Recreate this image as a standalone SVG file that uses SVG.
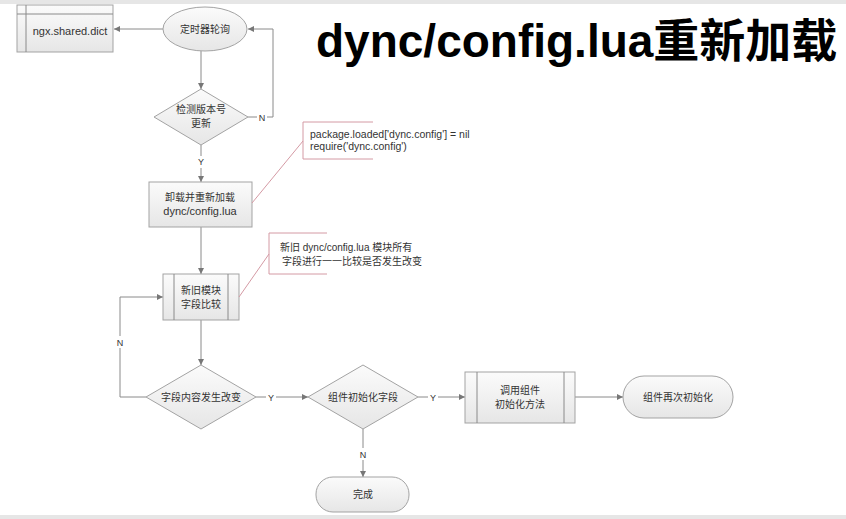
<svg xmlns="http://www.w3.org/2000/svg" width="846" height="519" viewBox="0 0 846 519">
<defs>
<linearGradient id="g" x1="0" y1="0" x2="0" y2="1">
<stop offset="0" stop-color="#fbfbfb"/>
<stop offset="1" stop-color="#e6e6e6"/>
</linearGradient>
<marker id="ah" viewBox="0 0 10 10" refX="10" refY="5" markerWidth="6" markerHeight="6" markerUnits="userSpaceOnUse" orient="auto">
<path d="M0,0 L10,5 L0,10 z" fill="#777"/>
</marker>
</defs>
<style>
.n{fill:url(#g);stroke:#a3a3a3;stroke-width:1}
.i{stroke:#8a8a8a;stroke-width:1;fill:none}
.t{font-family:"Liberation Sans","Noto Sans CJK SC",sans-serif;font-size:10px;fill:#333;text-anchor:middle}
.tl{font-size:11px}
.a{stroke:#8a8a8a;stroke-width:1;fill:none;marker-end:url(#ah)}
.l{font-family:"Liberation Sans",sans-serif;font-size:9px;fill:#333;text-anchor:middle}
.an{stroke:#d49aa4;stroke-width:1;fill:none}
.at{font-family:"Liberation Sans","Noto Sans CJK SC",sans-serif;font-size:10.5px;fill:#333}
.at2{font-family:"Liberation Sans","Noto Sans CJK SC",sans-serif;font-size:10px;fill:#333}
</style>
<rect width="846" height="519" fill="#fff"/>
<rect x="0" y="0" width="846" height="4" fill="#e6e6e6"/>
<rect x="0" y="515" width="846" height="4" fill="#e6e6e6"/>

<text x="316" y="57" font-family="Liberation Sans,'Noto Sans CJK SC',sans-serif" font-weight="bold" font-size="46" fill="#000">dync/config.lua重新加载</text>

<g id="connectors">
<path class="a" d="M163,29 L114,29"/>
<path class="a" d="M201,51 L201,89"/>
<path class="a" d="M248,117 L273,117 L273,29 L248,29"/>
<path class="a" d="M201,145 L201,182"/>
<path class="a" d="M201,227 L201,274"/>
<path class="a" d="M201,320 L201,365"/>
<path class="a" d="M146,397 L120,397 L120,297 L163,297"/>
<path class="a" d="M256,397 L308,397"/>
<path class="a" d="M418,397 L465,397"/>
<path class="a" d="M363,429 L363,477"/>
<path class="a" d="M575,397 L623,397"/>
<rect x="257" y="111" width="10" height="12" fill="#fff"/>
<text class="l" x="262" y="120.5">N</text>
<rect x="196" y="156" width="10" height="12" fill="#fff"/>
<text class="l" x="201" y="165">Y</text>
<rect x="115" y="336" width="10" height="12" fill="#fff"/>
<text class="l" x="120" y="345.5">N</text>
<rect x="266" y="391" width="10" height="12" fill="#fff"/>
<text class="l" x="271" y="400.5">Y</text>
<rect x="428" y="391" width="10" height="12" fill="#fff"/>
<text class="l" x="433" y="400.5">Y</text>
<rect x="358" y="448" width="10" height="12" fill="#fff"/>
<text class="l" x="363" y="457.5">N</text>
</g>

<g id="ngx">
<rect class="n" x="17" y="5" width="96" height="47"/>
<path class="i" d="M26,5 V52 M17,14 H113"/>
<text class="t tl" x="70" y="35">ngx.shared.dict</text>
</g>

<g id="timer">
<ellipse class="n" cx="205" cy="29" rx="42" ry="22"/>
<text class="t" x="205" y="33">定时器轮询</text>
</g>

<g id="check">
<polygon class="n" points="201,89 248,117 201,145 154,117"/>
<text class="t" x="201" y="113">检测版本号</text>
<text class="t" x="201" y="127">更新</text>
</g>

<g id="reload">
<rect class="n" x="149" y="182" width="103" height="45"/>
<text class="t" x="200" y="201">卸载并重新加载</text>
<text class="t tl" x="200" y="215">dync/config.lua</text>
</g>

<g id="note1">
<path class="an" d="M373,122 H303 V159 H373 M303,141 L252,203"/>
<text class="at" x="310" y="138">package.loaded['dync.config'] = nil</text>
<text class="at" x="310" y="150">require('dync.config')</text>
</g>

<g id="compare">
<rect class="n" x="163" y="274" width="76" height="46"/>
<path class="i" d="M174,274 V320 M228,274 V320"/>
<text class="t" x="201" y="294">新旧模块</text>
<text class="t" x="201" y="308">字段比较</text>
</g>

<g id="note2">
<path class="an" d="M327,233 H269 V274 H327 M269,254 L239,297"/>
<text class="at2" x="280" y="251">新旧 dync/config.lua 模块所有</text>
<text class="at2" x="282" y="265">字段进行一一比较是否发生改变</text>
</g>

<g id="changed">
<polygon class="n" points="201,365 256,397 201,429 146,397"/>
<text class="t" x="201" y="401">字段内容发生改变</text>
</g>

<g id="initfield">
<polygon class="n" points="363,365 418,397 363,429 308,397"/>
<text class="t" x="363" y="401">组件初始化字段</text>
</g>

<g id="callinit">
<rect class="n" x="465" y="372" width="110" height="51"/>
<path class="i" d="M477,372 V423 M564,372 V423"/>
<text class="t" x="520" y="394">调用组件</text>
<text class="t" x="520" y="408">初始化方法</text>
</g>

<g id="reinit">
<rect class="n" x="623" y="376" width="110" height="42" rx="21" ry="21"/>
<text class="t" x="678" y="401">组件再次初始化</text>
</g>

<g id="done">
<rect class="n" x="316" y="477" width="93" height="35" rx="17" ry="17"/>
<text class="t" x="363" y="498">完成</text>
</g>
</svg>
